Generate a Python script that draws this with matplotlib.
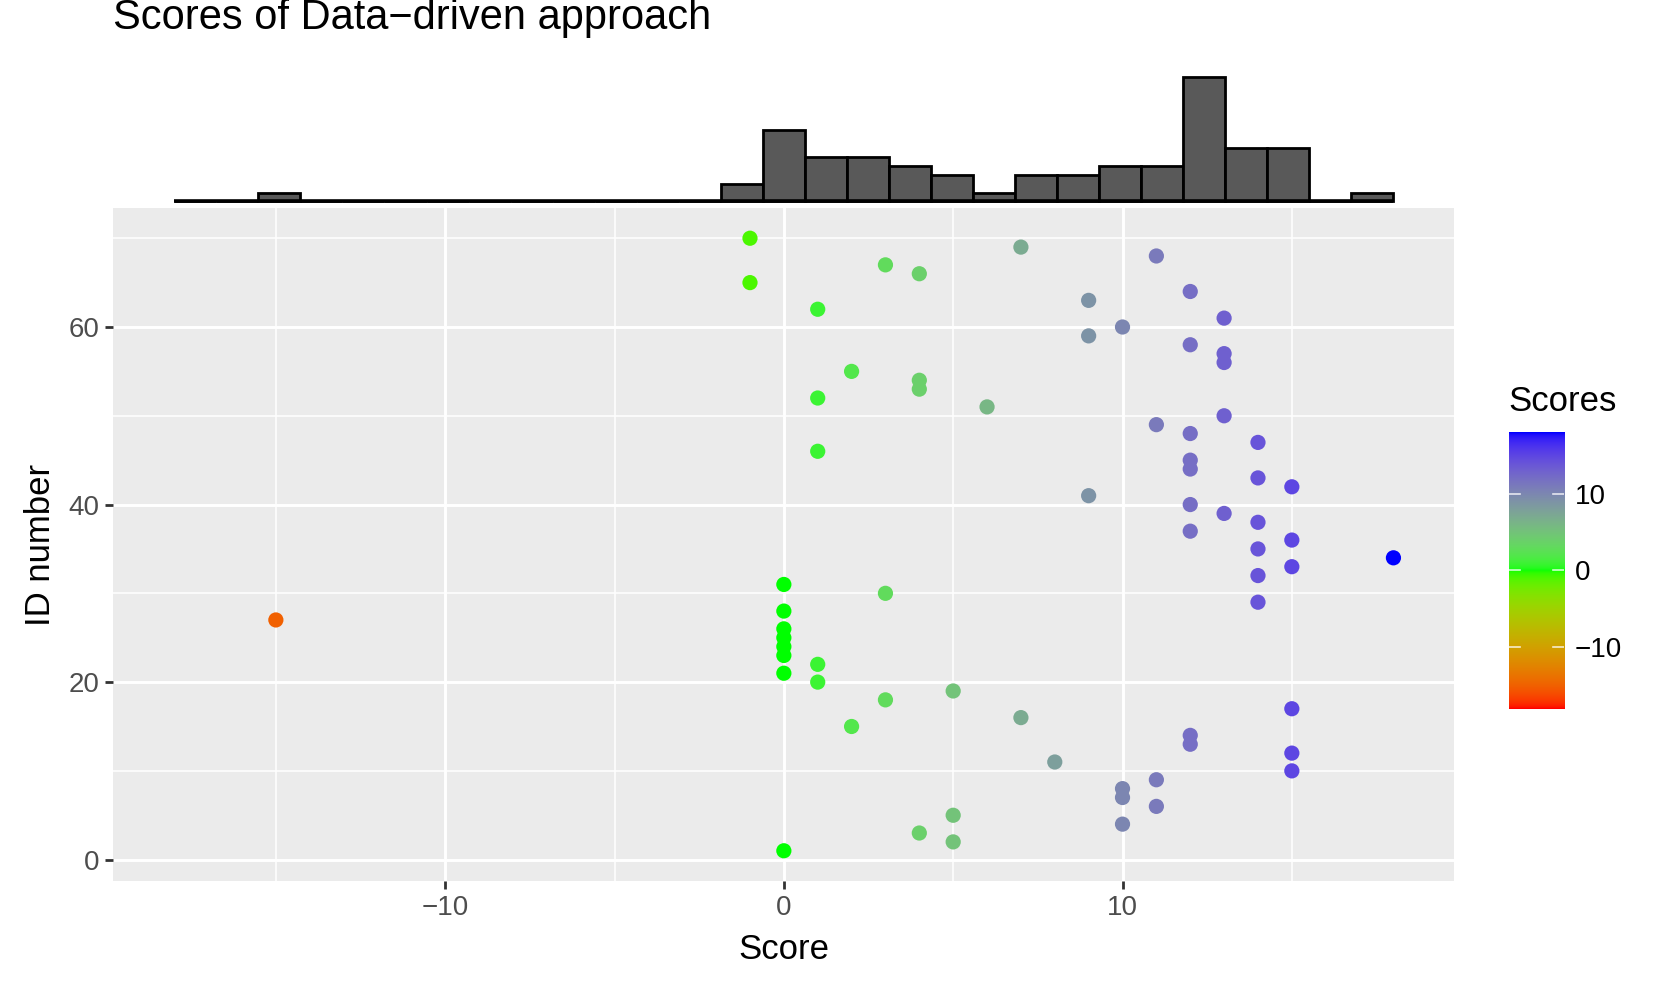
import numpy as np
import matplotlib
matplotlib.use("Agg")
from matplotlib import pyplot as plt
from matplotlib.colors import ListedColormap, Normalize

plt.rcParams['font.family'] = ['Liberation Sans', 'DejaVu Sans']

# data: one score per ID number (1..70)
id_numbers = list(range(1, 71))
scores = [0, 5, 4, 10, 5, 11, 10, 10, 11, 15,
          8, 15, 12, 12, 2, 7, 15, 3, 5, 1,
          0, 1, 0, 0, 0, 0, -15, 0, 14, 3,
          0, 14, 15, 18, 14, 15, 12, 14, 13, 12,
          9, 15, 14, 12, 12, 1, 14, 12, 11, 13,
          6, 1, 4, 4, 2, 13, 13, 12, 9, 10,
          13, 1, 9, 12, -1, 4, 3, 11, 7, -1]
score_limits = (-18, 18)
x_ticks = [-10, 0, 10]
y_ticks = [0, 20, 40, 60]
legend_ticks = [-10, 0, 10]


# sRGB <-> CIELAB so the gradient mixes like ggplot's scale_colour_gradient2
M = np.array([[0.4124564, 0.3575761, 0.1804375],
              [0.2126729, 0.7151522, 0.0721750],
              [0.0193339, 0.1191920, 0.9503041]])
WHITE = np.array([0.95047, 1.0, 1.08883])

def rgb_to_lab(rgb):
    c = np.asarray(rgb, float)
    lin = np.where(c <= 0.04045, c / 12.92, ((c + 0.055) / 1.055) ** 2.4)
    xyz = M @ lin / WHITE
    f = np.where(xyz > (6/29)**3, np.cbrt(xyz), xyz / (3 * (6/29)**2) + 4/29)
    return np.array([116 * f[1] - 16, 500 * (f[0] - f[1]), 200 * (f[1] - f[2])])

def lab_to_rgb(lab):
    L, a, b = lab
    fy = (L + 16) / 116
    f = np.array([fy + a / 500, fy, fy - b / 200])
    xyz = np.where(f > 6/29, f ** 3, 3 * (6/29)**2 * (f - 4/29)) * WHITE
    lin = np.linalg.solve(M, xyz)
    lin = np.clip(lin, 0, 1)
    c = np.where(lin <= 0.0031308, 12.92 * lin, 1.055 * lin ** (1/2.4) - 0.055)
    return np.clip(c, 0, 1)

low, mid, high = rgb_to_lab([1, 0, 0]), rgb_to_lab([0, 1, 0]), rgb_to_lab([0, 0, 1])
cols = []
for t in np.linspace(0, 1, 301):
    if t < 0.5:
        s = t / 0.5
        cols.append(lab_to_rgb(low + (mid - low) * s))
    else:
        s = (t - 0.5) / 0.5
        cols.append(lab_to_rgb(mid + (high - mid) * s))
cmap = ListedColormap(cols)
norm = Normalize(score_limits[0], score_limits[1])

W, H = 1661, 989
fig = plt.figure(figsize=(W / 100, H / 100), dpi=100)

ax = fig.add_axes([113.3 / W, 1 - 881.4 / H, (1454.4 - 113.3) / W, (881.4 - 207.6) / H])
ax_h = fig.add_axes([113.3 / W, 1 - 207.6 / H, (1454.4 - 113.3) / W, (207.6 - 71) / H])
cax = fig.add_axes([1508.5 / W, 1 - 708.7 / H, (1563.6 - 1508.5) / W, (708.7 - 432.2) / H])

xpad = (score_limits[1] - score_limits[0]) * 0.05
xlim = (score_limits[0] - xpad, score_limits[1] + xpad)
ypad = (max(id_numbers) - min(id_numbers)) * 0.05
ylim = (min(id_numbers) - ypad, max(id_numbers) + ypad)

# main scatter
ax.set_facecolor('#EBEBEB')
ax.scatter(scores, id_numbers, c=scores, cmap=cmap, norm=norm, s=120, linewidths=0, zorder=3)
ax.set_xlim(xlim)
ax.set_ylim(ylim)
ax.set_xticks(x_ticks)
ax.set_xticks([-15, -5, 5, 15], minor=True)
ax.set_yticks(y_ticks)
ax.set_yticks([10, 30, 50, 70], minor=True)
ax.set_xticklabels([str(v).replace('-', '\u2212') for v in x_ticks])
ax.grid(which='major', color='white', linewidth=2.1, zorder=1)
ax.grid(which='minor', color='white', linewidth=1.1, zorder=1)
ax.set_axisbelow(True)
for sp in ax.spines.values():
    sp.set_visible(False)
ax.tick_params(which='major', length=6, width=2, color='#333333', labelcolor='#4D4D4D',
               labelsize=20, pad=4)
ax.tick_params(which='minor', length=0)

fig.text(784 / W, 1 - 959 / H, 'Score', ha='center', va='baseline', fontsize=25)
fig.text(40 / W, 1 - 544.5 / H, 'ID number', ha='center', va='center', rotation=90, fontsize=25)
fig.text(113.3 / W, 1 - 29 / H, 'Scores of Data\u2212driven approach', ha='left', va='baseline',
         fontsize=30)

# marginal histogram
ax_h.hist(scores, bins=np.linspace(score_limits[0], score_limits[1], 30),
          facecolor='#595959', edgecolor='black', linewidth=2)
ax_h.hlines(0, score_limits[0], score_limits[1], color='black', linewidth=2.6)
ax_h.set_xlim(xlim)
ax_h.set_ylim(-0.7, 14.7)
ax_h.axis('off')

# colour bar legend
grad = np.linspace(score_limits[0], score_limits[1], 300).reshape(-1, 1)
cax.imshow(grad, cmap=cmap, norm=norm, origin='lower', aspect='auto',
           extent=[0, 1, score_limits[0], score_limits[1]])
for v in legend_ticks:
    cax.plot([0, 0.2], [v, v], color='white', lw=1.2, alpha=0.8)
    cax.plot([0.8, 1], [v, v], color='white', lw=1.2, alpha=0.8)
cax.set_xlim(0, 1)
cax.set_ylim(score_limits)
cax.set_xticks([])
cax.set_yticks(legend_ticks)
cax.set_yticklabels([str(v).replace('-', '\u2212') for v in legend_ticks])
cax.yaxis.tick_right()
cax.tick_params(length=0, labelsize=20, pad=8, labelcolor='black')
for sp in cax.spines.values():
    sp.set_visible(False)
fig.text(1508.5 / W, 1 - 411 / H, 'Scores', ha='left', va='baseline', fontsize=25)

fig.savefig('out.png', dpi=100)
